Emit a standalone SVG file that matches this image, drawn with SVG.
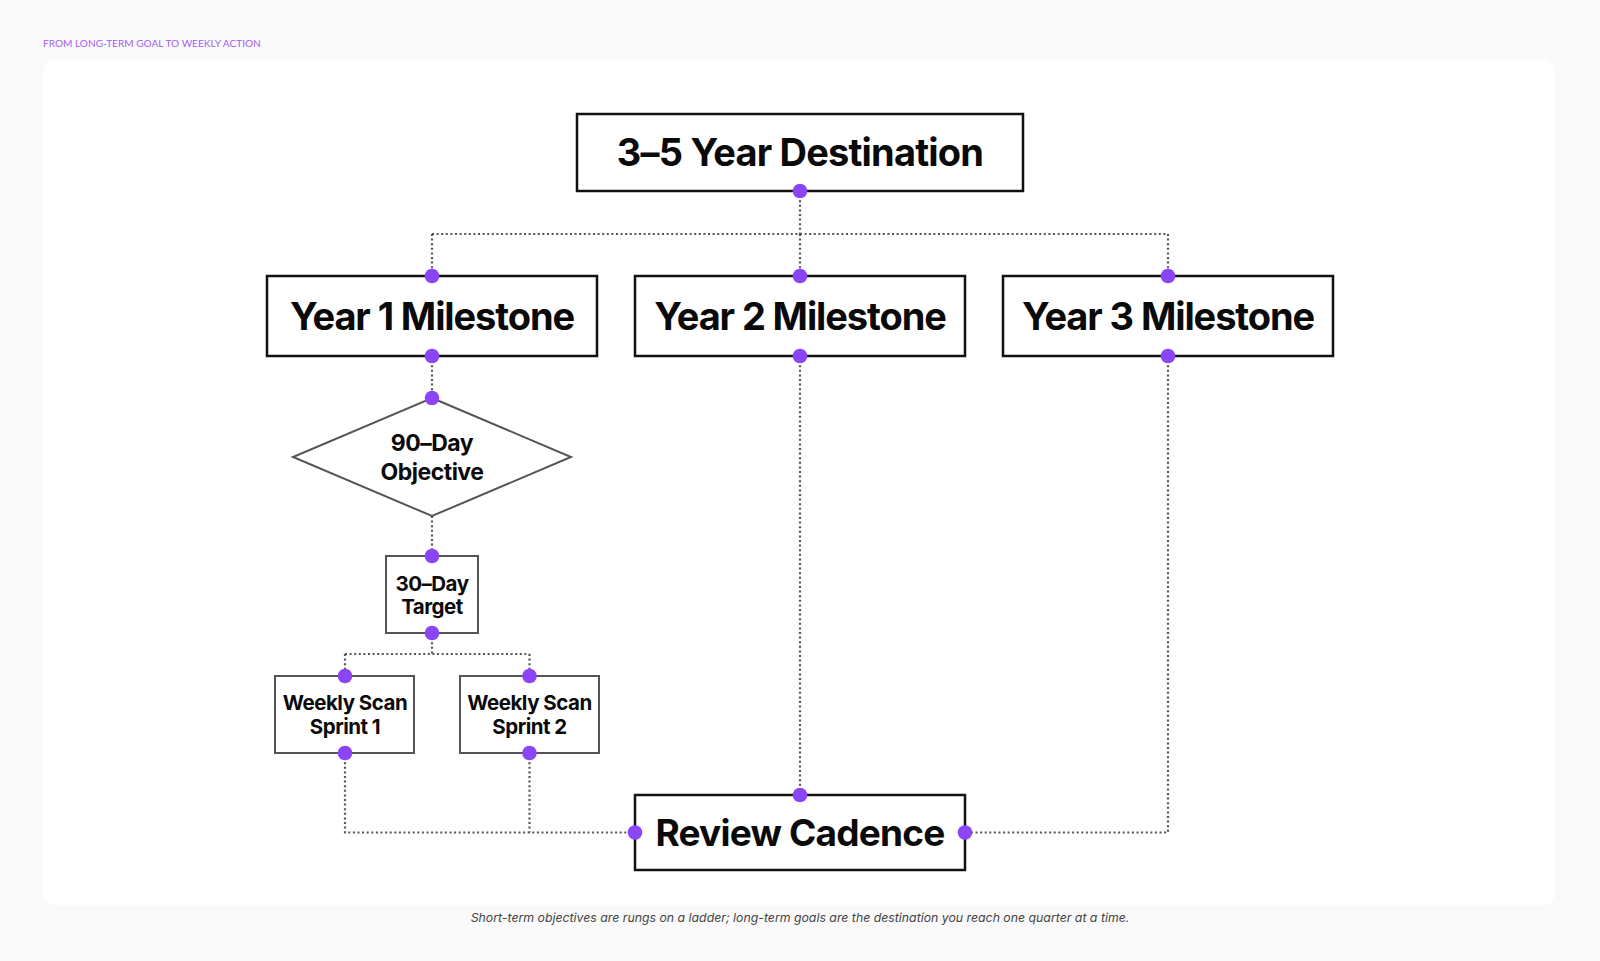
<svg xmlns="http://www.w3.org/2000/svg" width="1600" height="961" viewBox="0 0 1600 961">
<defs>
<style>
.bg{fill:#fafafa}
.panel{fill:#ffffff}
.big{fill:#fff;stroke:#111;stroke-width:2.5}
.small{fill:#fff;stroke:#555;stroke-width:2}
.conn{fill:none;stroke:#555;stroke-width:2.2;stroke-dasharray:2 2.6}
.dot{fill:#8b45f5}
.t1{font-family:Inter,"Liberation Sans",sans-serif;font-weight:700;fill:#0a0a0a;text-anchor:middle}
.hdr{font-family:Lato,Inter,"Liberation Sans",sans-serif;font-size:10.1px;fill:#a35ef2}
.cap{font-family:Inter,"Liberation Sans",sans-serif;font-style:italic;font-size:12.3px;fill:#444;text-anchor:middle}
</style>
</defs>
<rect class="bg" x="0" y="0" width="1600" height="961"/>
<rect class="panel" x="43" y="60" width="1512" height="845" rx="12"/>
<text class="hdr" x="43" y="46.5">FROM LONG-TERM GOAL TO WEEKLY ACTION</text>

<g id="connectors">
<path class="conn" d="M800 191 V234 M432 234 H1168 M432 234 V276 M800 234 V276 M1168 234 V276"/>
<path class="conn" d="M432 356 V398"/>
<path class="conn" d="M432 516 V556"/>
<path class="conn" d="M432 633 V654 M345 654 H529.5 M345 654 V676 M529.5 654 V676"/>
<path class="conn" d="M345 753 V832.5 H635 M529.5 753 V832.5"/>
<path class="conn" d="M800 356 V795"/>
<path class="conn" d="M1168 356 V832.5 H965"/>
</g>

<g id="destination">
<rect class="big" x="577" y="114" width="446" height="77"/>
<text class="t1" x="800" y="166" font-size="38" letter-spacing="-0.8">3–5 Year Destination</text>
</g>
<g id="year1">
<rect class="big" x="267" y="276" width="330" height="80"/>
<text class="t1" x="432" y="330" font-size="38" letter-spacing="-1.1">Year 1 Milestone</text>
</g>
<g id="year2">
<rect class="big" x="635" y="276" width="330" height="80"/>
<text class="t1" x="800" y="330" font-size="38" letter-spacing="-1.1">Year 2 Milestone</text>
</g>
<g id="year3">
<rect class="big" x="1003" y="276" width="330" height="80"/>
<text class="t1" x="1168" y="330" font-size="38" letter-spacing="-1.1">Year 3 Milestone</text>
</g>
<g id="objective90">
<polygon class="small" points="432,398 571,457 432,516 293,457"/>
<text class="t1" x="432" y="451" font-size="23" letter-spacing="-0.5">90–Day</text>
<text class="t1" x="432" y="480" font-size="23" letter-spacing="-0.5">Objective</text>
</g>
<g id="target30">
<rect class="small" x="386" y="556" width="92" height="77"/>
<text class="t1" x="432" y="591" font-size="20.5" letter-spacing="-0.5">30–Day</text>
<text class="t1" x="432" y="614" font-size="20.5" letter-spacing="-0.5">Target</text>
</g>
<g id="sprint1">
<rect class="small" x="275" y="676" width="139" height="77"/>
<text class="t1" x="345" y="710" font-size="20.5" letter-spacing="-0.5">Weekly Scan</text>
<text class="t1" x="345" y="734" font-size="20.5" letter-spacing="-0.5">Sprint 1</text>
</g>
<g id="sprint2">
<rect class="small" x="460" y="676" width="139" height="77"/>
<text class="t1" x="529.5" y="710" font-size="20.5" letter-spacing="-0.5">Weekly Scan</text>
<text class="t1" x="529.5" y="734" font-size="20.5" letter-spacing="-0.5">Sprint 2</text>
</g>
<g id="review">
<rect class="big" x="635" y="795" width="330" height="75"/>
<text class="t1" x="800" y="846" font-size="37" letter-spacing="-0.8">Review Cadence</text>
</g>

<g id="ports">
<circle class="dot" cx="800" cy="191" r="7.3"/>
<circle class="dot" cx="432" cy="276" r="7.3"/>
<circle class="dot" cx="800" cy="276" r="7.3"/>
<circle class="dot" cx="1168" cy="276" r="7.3"/>
<circle class="dot" cx="432" cy="356" r="7.3"/>
<circle class="dot" cx="800" cy="356" r="7.3"/>
<circle class="dot" cx="1168" cy="356" r="7.3"/>
<circle class="dot" cx="432" cy="398" r="7.3"/>
<circle class="dot" cx="432" cy="556" r="7.3"/>
<circle class="dot" cx="432" cy="633" r="7.3"/>
<circle class="dot" cx="345" cy="676" r="7.3"/>
<circle class="dot" cx="529.5" cy="676" r="7.3"/>
<circle class="dot" cx="345" cy="753" r="7.3"/>
<circle class="dot" cx="529.5" cy="753" r="7.3"/>
<circle class="dot" cx="800" cy="795" r="7.3"/>
<circle class="dot" cx="635" cy="832.5" r="7.3"/>
<circle class="dot" cx="965" cy="832.5" r="7.3"/>
</g>

<text class="cap" x="800" y="922">Short-term objectives are rungs on a ladder; long-term goals are the destination you reach one quarter at a time.</text>
</svg>
